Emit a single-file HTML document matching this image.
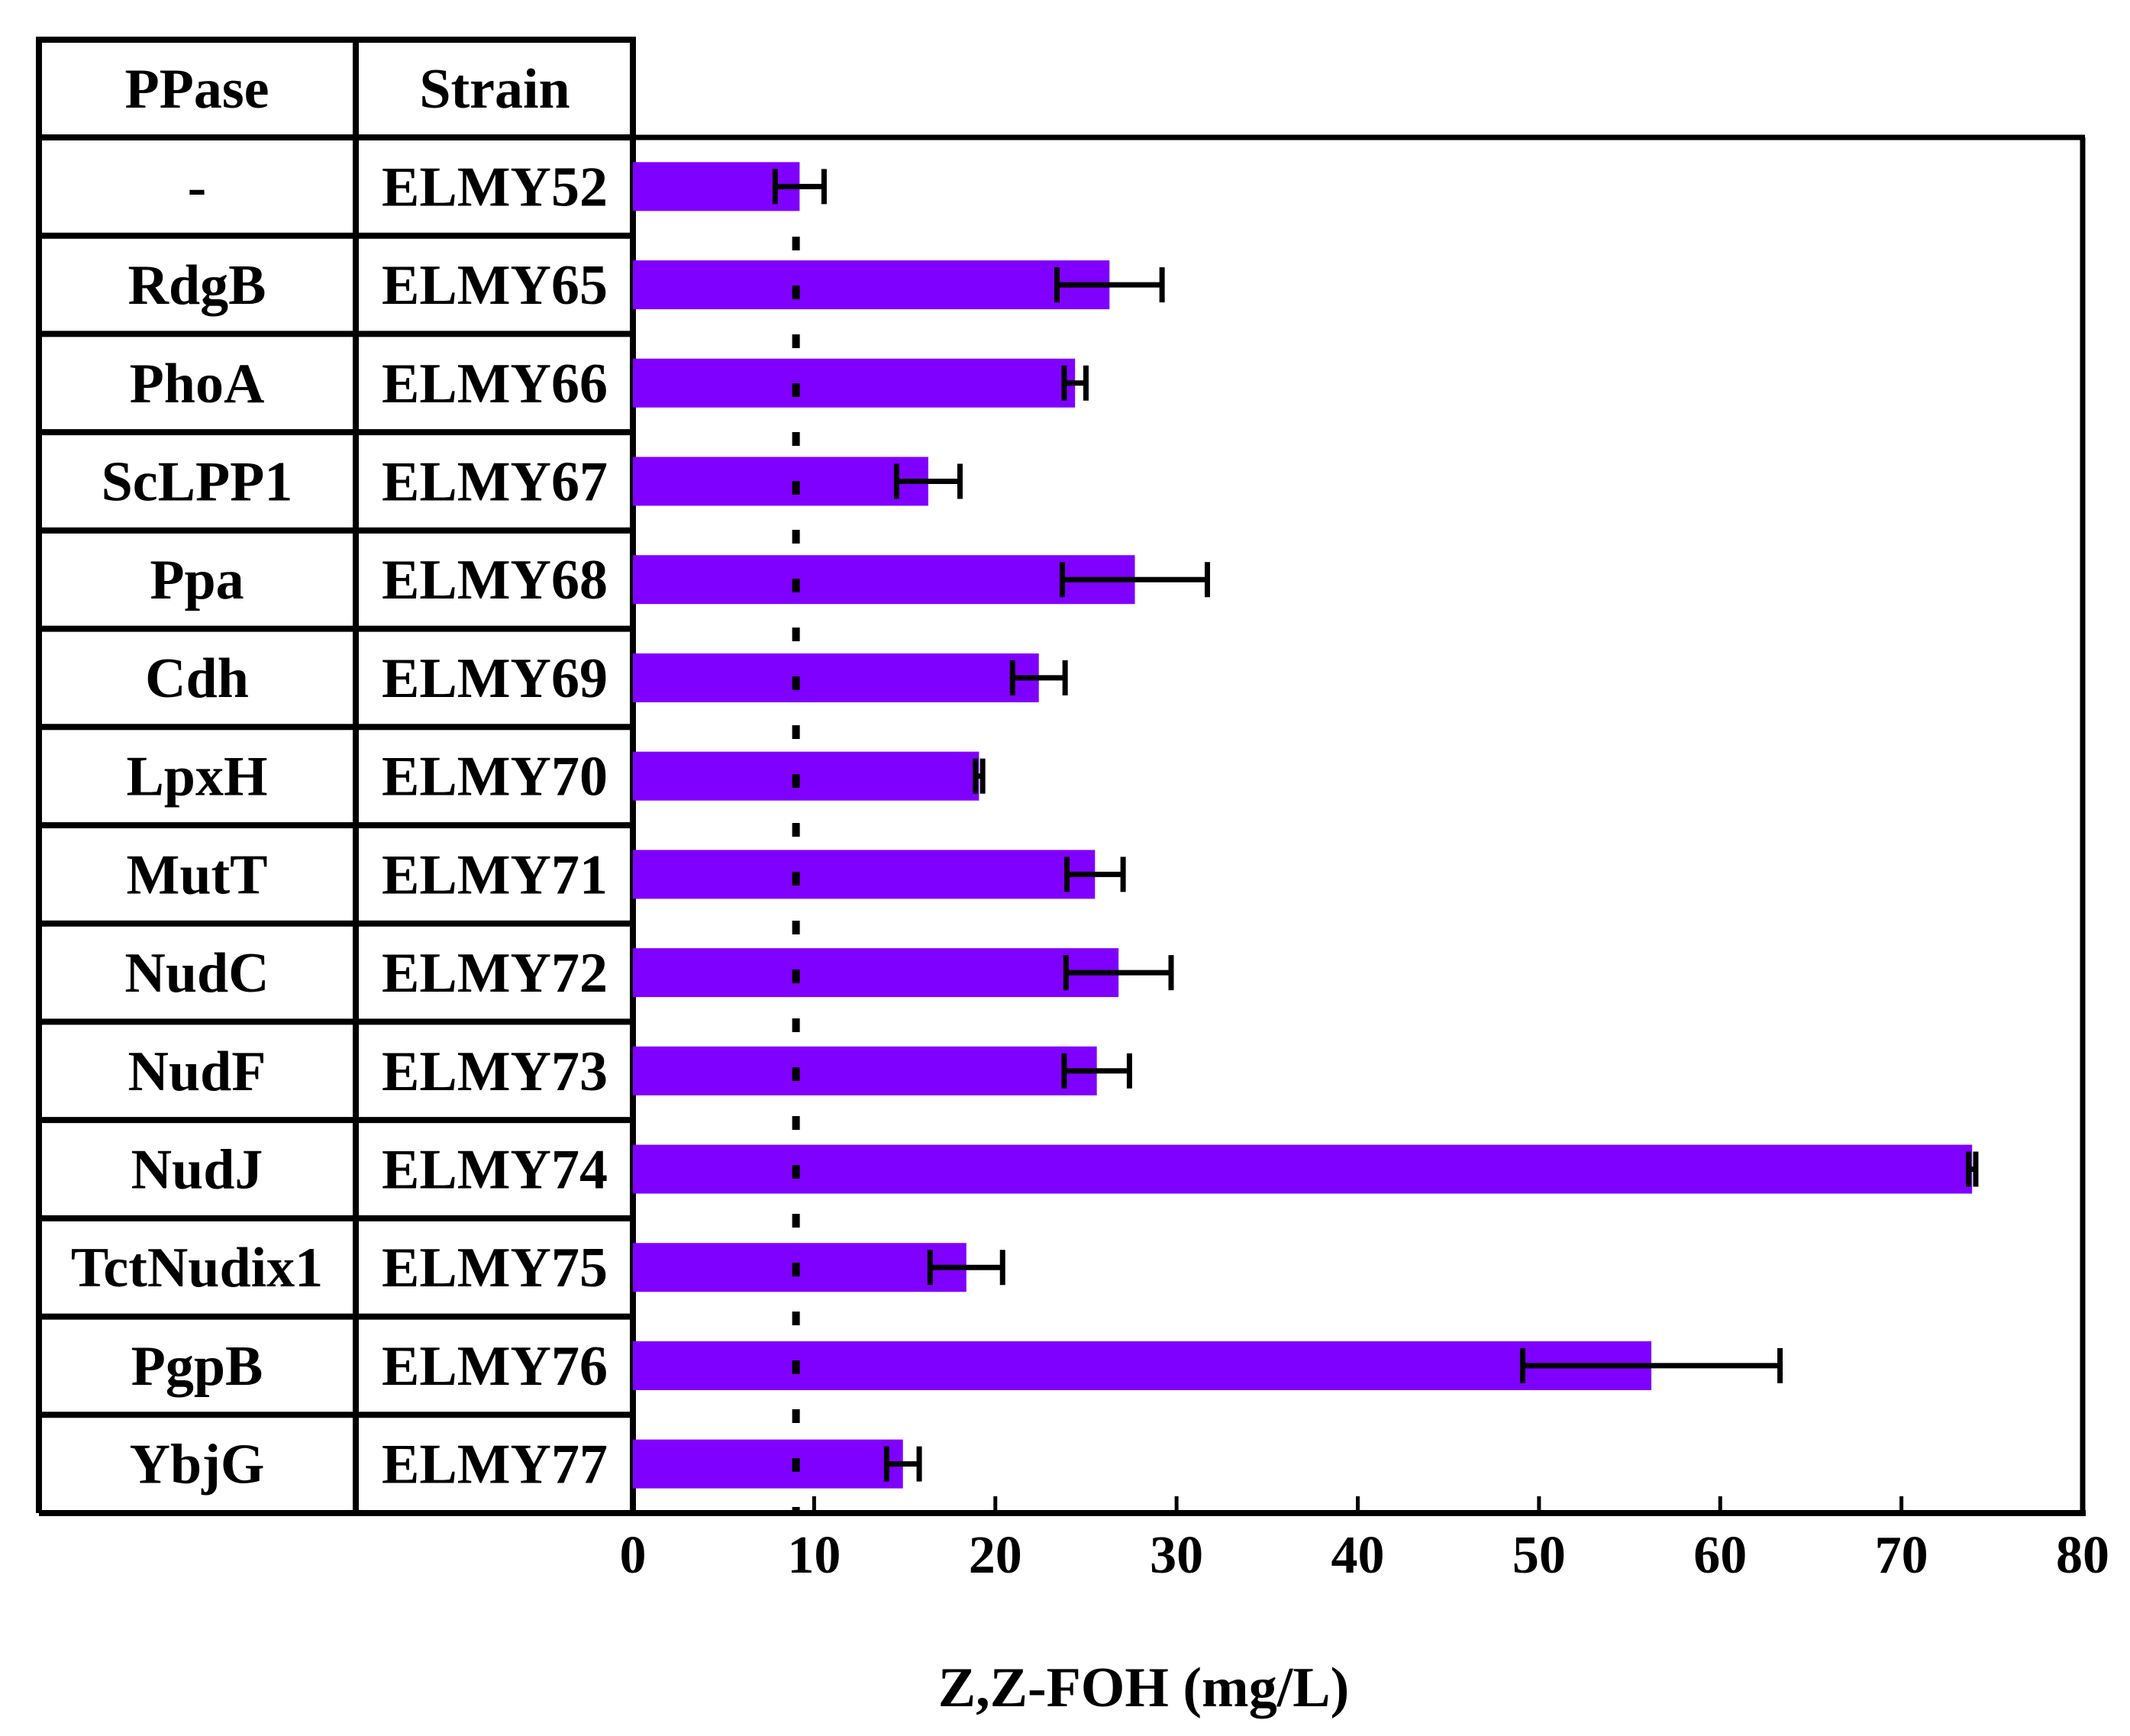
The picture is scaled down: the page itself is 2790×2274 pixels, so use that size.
<!DOCTYPE html>
<html><head><meta charset="utf-8"><style>
html,body{margin:0;padding:0;background:#fff;}
svg{display:block;}
text{font-family:"Liberation Serif",serif;font-weight:bold;fill:#000;}
</style></head><body>
<svg id="chart" width="2790" height="2274" viewBox="0 0 2790 2274" xmlns="http://www.w3.org/2000/svg">
<g id="table"></g>
<g id="plot"></g>
</svg>
<script>
const ppases = ["-","RdgB","PhoA","ScLPP1","Ppa","Cdh","LpxH","MutT","NudC","NudF","NudJ","TctNudix1","PgpB","YbjG"];
const strains = ["ELMY52","ELMY65","ELMY66","ELMY67","ELMY68","ELMY69","ELMY70","ELMY71","ELMY72","ELMY73","ELMY74","ELMY75","ELMY76","ELMY77"];
const values = [9.2,26.3,24.4,16.3,27.7,22.4,19.1,25.5,26.8,25.6,73.9,18.4,56.2,14.9];
const errors = [1.35,2.9,0.6,1.75,4.0,1.45,0.2,1.55,2.9,1.8,0.2,2.0,7.1,0.9];
const xTicks = [0,10,20,30,40,50,60,70,80];
const refValue = 9.0;

const NS="http://www.w3.org/2000/svg";
const X0=829, X1=2728, XMAX=80, TOP=180, BOT=1982;
const rowH=(BOT-TOP)/ppases.length;
const x=v=>X0+(v/XMAX)*(X1-X0);
const yc=i=>TOP+rowH*(i+0.5);
function mk(tag,attrs,parent){const e=document.createElementNS(NS,tag);for(const k in attrs)e.setAttribute(k,attrs[k]);parent.appendChild(e);return e;}
const tbl=document.getElementById('table'), plot=document.getElementById('plot');

values.forEach((v,i)=>{
  const b=mk('rect',{x:X0,y:yc(i)-32,width:x(v)-X0,height:64,fill:'#7f00ff'},plot);
  
  
});
const ref=mk('line',{x1:x(refValue),x2:x(refValue),y1:310,y2:BOT,stroke:'#000','stroke-width':10,'stroke-dasharray':'18 46'},plot);


values.forEach((v,i)=>{
  const g=mk('g',{stroke:'#000','stroke-width':7},plot);
  
  
  const lo=x(v-errors[i]), hi=x(v+errors[i]), y=yc(i);
  mk('line',{x1:lo,x2:hi,y1:y,y2:y},g);
  mk('line',{x1:lo,x2:lo,y1:y-23,y2:y+23},g);
  mk('line',{x1:hi,x2:hi,y1:y-23,y2:y+23},g);
});
mk('line',{x1:X0,x2:X1+3,y1:TOP,y2:TOP,stroke:'#000','stroke-width':7},plot);
mk('line',{x1:X1,x2:X1,y1:TOP,y2:BOT,stroke:'#000','stroke-width':7},plot);
mk('line',{x1:51,x2:X1+4,y1:BOT,y2:BOT,stroke:'#000','stroke-width':8},plot);
xTicks.forEach(t=>{
  mk('line',{x1:x(t),x2:x(t),y1:BOT-22,y2:BOT,stroke:'#000','stroke-width':5},plot);
  const l=mk('text',{x:x(t),y:2060,'font-size':70,'text-anchor':'middle'},plot);
  l.textContent=t;
  
  
});
const title=mk('text',{x:1498,y:2235,'font-size':74,'text-anchor':'middle'},plot);
title.textContent='Z,Z-FOH (mg/L)';



mk('line',{x1:51,x2:829,y1:52,y2:52,stroke:'#000','stroke-width':8},tbl);
[51,466,829].forEach(cx=>mk('line',{x1:cx,x2:cx,y1:48,y2:BOT,stroke:'#000','stroke-width':8},tbl));
for(let k=0;k<ppases.length;k++){const yy=TOP+rowH*k;mk('line',{x1:51,x2:829,y1:yy,y2:yy,stroke:'#000','stroke-width':8},tbl);}
function cell(txt,cx,cy,name){const t=mk('text',{x:cx,y:cy+25,'font-size':74,'text-anchor':'middle'},tbl);t.textContent=txt;}
cell('PPase',258,116,'header-ppase');
cell('Strain',648,116,'header-strain');
ppases.forEach((p,i)=>{cell(p,258,yc(i),'ppase-cell');cell(strains[i],648,yc(i),'strain-cell');});
</script>
</body></html>
